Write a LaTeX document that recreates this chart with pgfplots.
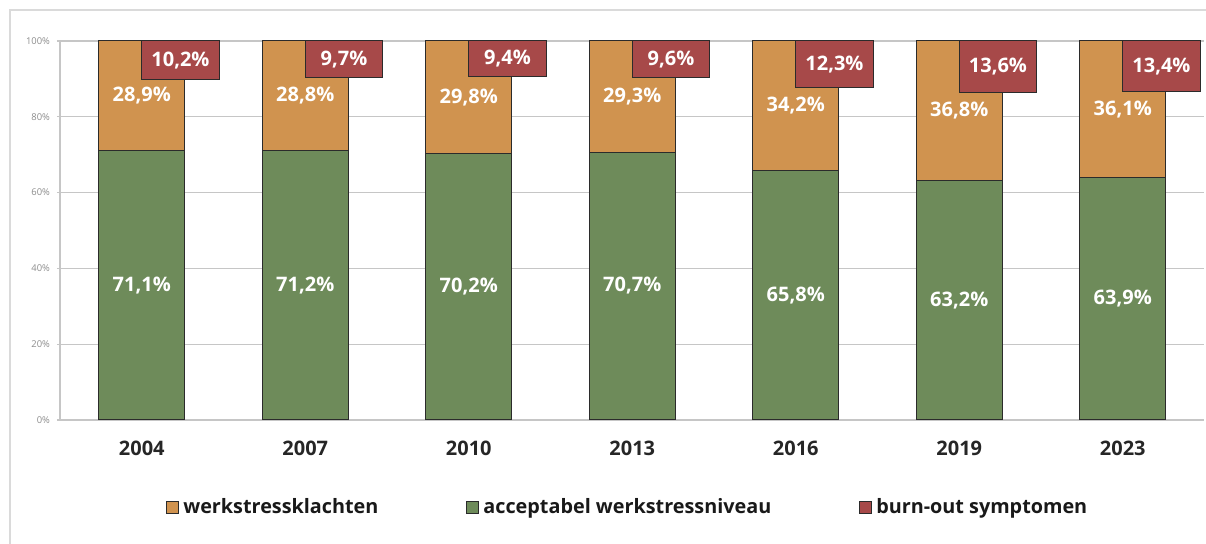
\documentclass[border=0pt]{standalone}
\usepackage{fontspec}
\setmainfont{Open Sans}
\usepackage{pgfplots}
\usepackage{pgfplotstable}
\pgfplotsset{compat=1.18}
\definecolor{accgreen}{HTML}{6E8B5A}
\definecolor{klorange}{HTML}{D0934F}
\definecolor{bored}{HTML}{A74949}
\definecolor{gridgray}{HTML}{C6C6C6}
\definecolor{framegray}{HTML}{DADADA}
\definecolor{ticktext}{HTML}{8C8C8C}
\definecolor{barline}{HTML}{2B2B2B}

% acceptabel + klachten = 100, burn-out shown as separate box from the top
\pgfplotstableread{
year green orange red
2004 71.1 28.9 10.2
2007 71.2 28.8 9.7
2010 70.2 29.8 9.4
2013 70.7 29.3 9.6
2016 65.8 34.2 12.3
2019 63.2 36.8 13.6
2023 63.9 36.1 13.4
}\werkstress

\pgfplotsset{
  panel/.style={
    at={(30pt,62pt)}, anchor=south west, scale only axis,
    width=572.25pt, height=189.5pt,
    xmin=-0.5, xmax=6.5, ymin=0, ymax=100,
    /pgf/number format/assume math mode=true,
  },
  pctlabel/.style={
    nodes near coords={\pgfmathprintnumber[use comma,fixed,fixed zerofill,precision=1]{\pgfplotspointmeta}\%},
    nodes near coords align={center},
    every node near coord/.append style={font=\bfseries\fontsize{10}{12}\selectfont, text=white},
  },
}

\begin{document}
\begin{tikzpicture}[x=1pt,y=1pt]
\useasboundingbox (0,0) rectangle (603,272);
\draw[framegray, line width=0.8pt] (5,-2) -- (5,267) -- (605,267);

\begin{axis}[panel,
  ybar stacked, bar width=42.85pt,
  xtick=data, xticklabels={2004,2007,2010,2013,2016,2019,2023},
  x tick style={draw=none},
  xticklabel style={font=\bfseries\fontsize{10}{12}\selectfont, text=black!85, yshift=-5.5pt},
  ytick={0,20,...,100}, yticklabel={\pgfmathprintnumber{\tick}\%},
  yticklabel style={font=\fontsize{4.7}{5}\selectfont, text=ticktext},
  y tick style={gridgray, line width=0.6pt}, tick align=outside, major tick length=1.5pt,
  ymajorgrids, grid style={gridgray, line width=0.6pt},
  axis x line*=bottom, axis y line*=left,
  axis line style={gridgray, line width=0.8pt, -},
  pctlabel,
]
\addplot[fill=accgreen, draw=barline, line width=0.5pt]
  table[x expr=\coordindex, y=green, meta=green] {\werkstress};
\addplot[fill=klorange, draw=barline, line width=0.5pt]
  table[x expr=\coordindex, y=orange, meta=orange] {\werkstress};
\end{axis}

\begin{axis}[panel,
  y dir=reverse, hide axis,
  ybar, bar width=38.7pt, bar shift=19.35pt,
  pctlabel,
  legend columns=-1,
  legend style={at={(0.497,-0.2296)}, anchor=center, draw=none, fill=none,
    font=\bfseries\fontsize{9.9}{11}\selectfont, text=black!90,
    /tikz/every even column/.append style={column sep=42pt}},
  legend image code/.code={\draw[#1, line width=0.5pt] (0pt,-3pt) rectangle (6pt,3pt);},
]
\addlegendimage{fill=klorange, draw=barline}
\addlegendimage{fill=accgreen, draw=barline}
\addplot[fill=bored, draw=barline, line width=0.5pt,
  visualization depends on={0.5*\thisrow{red}\as\half},
  every node near coord/.append style={yshift={\half*1.895pt}}]
  table[x expr=\coordindex, y=red, meta=red] {\werkstress};
\legend{werkstressklachten, acceptabel werkstressniveau, burn-out symptomen}
\end{axis}
\end{tikzpicture}
\end{document}
